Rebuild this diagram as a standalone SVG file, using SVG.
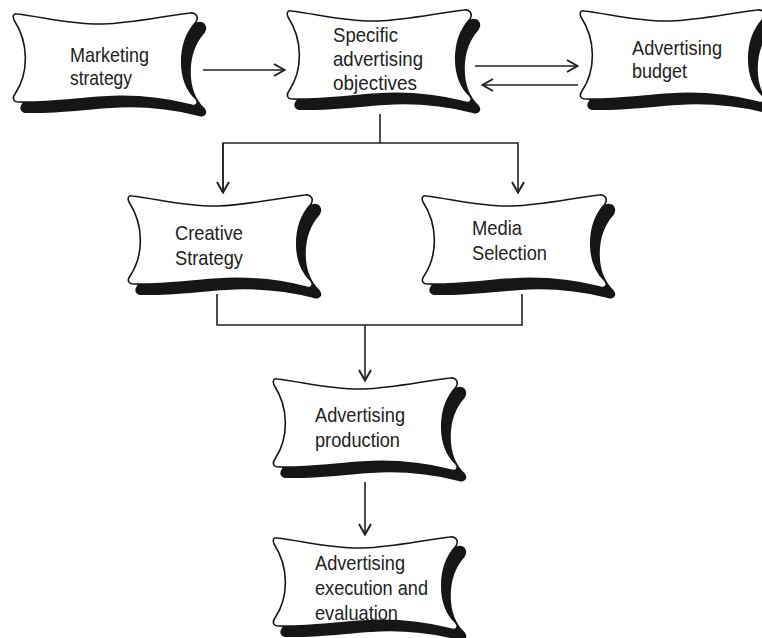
<svg xmlns="http://www.w3.org/2000/svg" width="762" height="638" viewBox="0 0 762 638">
<style>
.sh{fill:#161616;stroke:#161616;stroke-width:2;stroke-linejoin:round}
.bx{fill:#fff;stroke:#161616;stroke-width:1.6;stroke-linejoin:round}
text{font-family:"Liberation Sans",Arial,sans-serif;font-size:21px;fill:#222}
.ln{fill:none;stroke:#222;stroke-width:1.6}
</style>
<defs>
<path id="s" d="M 4,1 C 30,4 60,12 90,11 C 120,10 150,3 177,0 C 183,-1 186,4 183,9 C 164,30 164,68 183,86 C 186,90 183,94 178,92 C 150,85 120,82 90,84 C 60,86 30,90 6,89 C 0,89 -1,85 2,81 C 16,60 16,30 1,7 C -1,3 1,0 4,1 Z"/>
<g id="node"><use href="#s" class="sh" x="8" y="10"/><use href="#s" class="bx"/></g>
<marker id="a" viewBox="0 0 14 14" refX="13" refY="7" markerWidth="14" markerHeight="14" markerUnits="userSpaceOnUse" orient="auto"><path d="M2,1 L12.5,7 L2,13" fill="none" stroke="#222" stroke-width="2"/></marker>
</defs>
<g id="connectors">
<line class="ln" x1="203" y1="70" x2="285" y2="70" marker-end="url(#a)"/>
<line class="ln" x1="475" y1="66" x2="578" y2="66" marker-end="url(#a)"/>
<line class="ln" x1="578" y1="85" x2="482" y2="85" marker-end="url(#a)"/>
<line class="ln" x1="380" y1="114" x2="380" y2="143"/>
<polyline class="ln" points="223,193 223,143 518,143 518,193" marker-end="url(#a)"/>
<line class="ln" x1="223" y1="143" x2="223" y2="193" marker-end="url(#a)"/>
<polyline class="ln" points="217,294 217,325 522,325 522,294"/>
<line class="ln" x1="365" y1="325" x2="365" y2="381" marker-end="url(#a)"/>
<line class="ln" x1="365" y1="482" x2="365" y2="535" marker-end="url(#a)"/>
</g>
<g id="marketing-strategy"><use href="#node" x="13" y="13"/>
<text x="70" y="62" textLength="79" lengthAdjust="spacingAndGlyphs">Marketing</text>
<text x="70" y="85" textLength="62" lengthAdjust="spacingAndGlyphs">strategy</text></g>
<g id="specific-objectives"><use href="#node" x="287" y="10"/>
<text x="333" y="42" textLength="65" lengthAdjust="spacingAndGlyphs">Specific</text>
<text x="333" y="66" textLength="90" lengthAdjust="spacingAndGlyphs">advertising</text>
<text x="333" y="90" textLength="84" lengthAdjust="spacingAndGlyphs">objectives</text></g>
<g id="advertising-budget"><use href="#node" x="580" y="10"/>
<text x="632" y="55" textLength="90" lengthAdjust="spacingAndGlyphs">Advertising</text>
<text x="632" y="78" textLength="55" lengthAdjust="spacingAndGlyphs">budget</text></g>
<g id="creative-strategy"><use href="#node" x="128" y="195"/>
<text x="175" y="240" textLength="68" lengthAdjust="spacingAndGlyphs">Creative</text>
<text x="175" y="265" textLength="68" lengthAdjust="spacingAndGlyphs">Strategy</text></g>
<g id="media-selection"><use href="#node" x="422" y="195"/>
<text x="472" y="235" textLength="50" lengthAdjust="spacingAndGlyphs">Media</text>
<text x="472" y="260" textLength="75" lengthAdjust="spacingAndGlyphs">Selection</text></g>
<g id="advertising-production"><use href="#node" x="273" y="378"/>
<text x="315" y="422" textLength="90" lengthAdjust="spacingAndGlyphs">Advertising</text>
<text x="315" y="447" textLength="85" lengthAdjust="spacingAndGlyphs">production</text></g>
<g id="advertising-execution"><use href="#node" x="273" y="537"/>
<text x="315" y="570" textLength="90" lengthAdjust="spacingAndGlyphs">Advertising</text>
<text x="315" y="595" textLength="113" lengthAdjust="spacingAndGlyphs">execution and</text>
<text x="315" y="620" textLength="83" lengthAdjust="spacingAndGlyphs">evaluation</text></g>
</svg>
